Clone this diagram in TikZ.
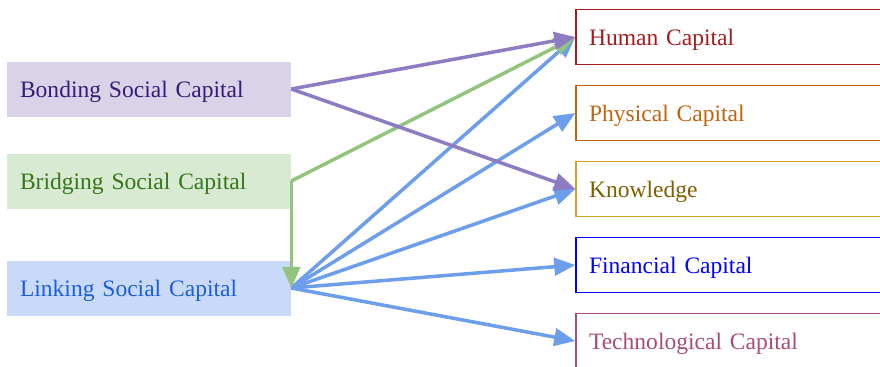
\documentclass[tikz,border=0pt]{standalone}
\usepackage{fontspec}
\setmainfont{Liberation Serif}
\usetikzlibrary{arrows.meta}
\definecolor{bondfill}{HTML}{D9D2E9}
\definecolor{bondtext}{HTML}{351C75}
\definecolor{bondline}{HTML}{8E7CC3}
\definecolor{bridgefill}{HTML}{D9EAD3}
\definecolor{bridgetext}{HTML}{38761D}
\definecolor{bridgeline}{HTML}{93C47D}
\definecolor{linkfill}{HTML}{C9DAF8}
\definecolor{linktext}{HTML}{1C5FD8}
\definecolor{linkline}{HTML}{6D9EEB}
\definecolor{humancol}{HTML}{A61C1C}
\definecolor{physcol}{HTML}{C0650E}
\definecolor{knowline}{HTML}{D4A020}
\definecolor{knowtext}{HTML}{7F6000}
\definecolor{fincol}{HTML}{0000FF}
\definecolor{techcol}{HTML}{A64D79}

\begin{document}
\begin{tikzpicture}[x=0.02cm, y=-0.02cm,
  leftbox/.style={rectangle, minimum width=5.68cm, minimum height=1.1cm, inner xsep=0.26cm, inner ysep=0pt, text width=5.16cm, text depth=0pt, align=left, font=\fontsize{13.4}{16}\selectfont},
  rightbox/.style={rectangle, draw, line width=0.8pt, fill=white, minimum width=6.48cm, minimum height=1.1cm, inner xsep=0.26cm, inner ysep=0pt, text width=5.96cm, text depth=0pt, align=left, font=\fontsize{13.4}{16}\selectfont},
  arr/.style={line width=2pt, -{Triangle[length=12pt, width=10pt]}}]
  \useasboundingbox (0,0) rectangle (880,366);
  \clip (0,0) rectangle (880,366);

  % social capital
  \node[leftbox, fill=bondfill, text=bondtext] (bonding) at (149,89) {Bonding Social Capital};
  \node[leftbox, fill=bridgefill, text=bridgetext] (bridging) at (149,181) {Bridging Social Capital};
  \node[leftbox, fill=linkfill, text=linktext] (linking) at (149,288) {Linking Social Capital};

  % capitals
  \node[rightbox, draw=humancol, text=humancol] (human) at (738,37) {Human Capital};
  \node[rightbox, draw=physcol, text=physcol] (physical) at (738,113) {Physical Capital};
  \node[rightbox, draw=knowline, text=knowtext] (knowledge) at (738,189) {Knowledge};
  \node[rightbox, draw=fincol, text=fincol] (financial) at (738,265) {Financial Capital};
  \node[rightbox, draw=techcol, text=techcol] (tech) at (738,341) {Technological Capital};

  \draw[arr, linkline] (linking.east) -- (human.west);
  \draw[arr, linkline] (linking.east) -- (physical.west);
  \draw[arr, linkline] (linking.east) -- (knowledge.west);
  \draw[arr, linkline] (linking.east) -- (financial.west);
  \draw[arr, linkline] (linking.east) -- (tech.west);

  \draw[arr, bridgeline] (bridging.east) -- (human.west);
  \draw[arr, bridgeline] (bridging.east) -- (linking.east);

  \draw[arr, bondline] (bonding.east) -- (human.west);
  \draw[arr, bondline] (bonding.east) -- (knowledge.west);
\end{tikzpicture}
\end{document}
